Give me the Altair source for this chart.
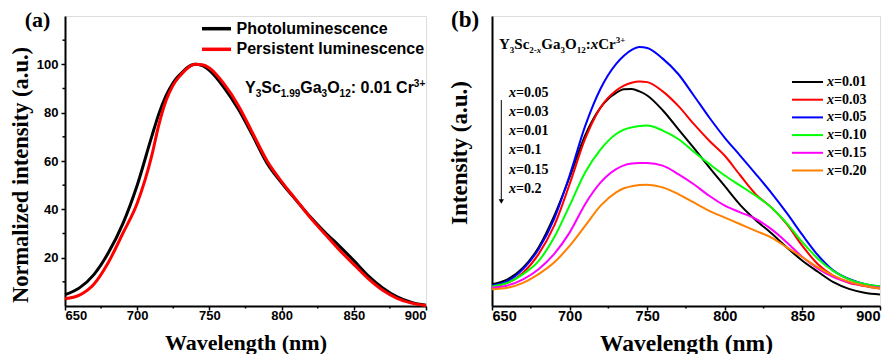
import altair as alt
import pandas as pd

# ---------------- data ----------------
WL_A = [650, 660, 670, 680, 690, 700, 710, 715, 720, 725, 730, 735, 740, 745, 750, 760, 770,
        780, 790, 800, 810, 820, 830, 840, 850, 860, 870, 880, 890, 900]
PL = [4.7, 7.5, 13, 22, 34, 50, 70, 79.5, 87, 92.5, 96, 98.8, 100, 99.5, 97.5, 90.5, 81.5,
      70.5, 59, 51, 43.8, 36.8, 30.5, 24.8, 18.8, 12.5, 7.5, 3.8, 1.5, 0.3]
PERSL = [3, 4.5, 9, 18, 30, 42.5, 62, 75, 85, 91.5, 95.5, 98.5, 100, 99.8, 98.5, 92, 83,
         71.5, 60, 51.5, 44, 36.5, 29.8, 23.2, 17.2, 11.3, 6.5, 3.2, 1.2, 0.2]
A_SERIES = ["Photoluminescence", "Persistent luminescence"]
A_COLORS = ["#000000", "#ff0000"]

WL_B = [650, 660, 670, 680, 690, 700, 710, 720, 730, 735, 740, 745, 750, 760, 770,
        780, 790, 800, 810, 820, 830, 840, 850, 860, 870, 880, 890, 900]
B_X = ["0.01", "0.03", "0.05", "0.10", "0.15", "0.20"]
B_001 = [7.5, 9.2, 13.2, 20.2, 31, 44.4, 58.8, 68.5, 73.5, 74.7, 74.8, 74, 72.6, 67.5, 61,
         54.5, 47.8, 41.3, 34.8, 29.6, 25.1, 20.2, 15.6, 11.8, 8.2, 5.9, 4.6, 4]
B_003 = [6.9, 8, 11.5, 17.9, 27.6, 42, 57.6, 68.5, 74.3, 76, 77, 77.4, 77.2, 74, 69,
         62.8, 57, 51.8, 45, 38.5, 34, 28.2, 20.7, 14.4, 10.4, 8, 6.9, 6]
B_005 = [7.1, 8.6, 12.7, 19.6, 30, 45, 62, 75, 83.5, 86.3, 88.3, 89.3, 89, 85.3, 80,
         72.6, 65, 58, 51.8, 45.5, 39, 32, 24.5, 17.5, 12.2, 9.3, 7.6, 6.7]
B_010 = [6.7, 8, 11, 15.5, 23.6, 34.6, 46, 54, 59.3, 60.8, 61.6, 62.1, 62.2, 60.5, 57.6,
         53.2, 49, 45, 41.5, 38, 34, 28.5, 22, 16.3, 12, 9.2, 7.6, 6.8]
B_015 = [6.3, 7.1, 9.2, 12.7, 17.9, 25.3, 35.1, 42.6, 47.2, 48.5, 49.1, 49.3, 49.3, 48.4, 45.5,
         42, 38, 34.6, 32.3, 30, 26.5, 21.9, 16.9, 12.9, 10, 8.2, 7, 6.3]
B_020 = [5.8, 6.3, 8, 11, 15, 20.7, 27.6, 34.6, 39.2, 40.6, 41.3, 41.7, 41.8, 40.9, 38.6,
         35.7, 32.8, 30.5, 28.2, 25.9, 23.6, 20.2, 16.8, 13.3, 10.5, 8.4, 7, 6]
B_VALUES = [B_001, B_003, B_005, B_010, B_015, B_020]
B_COLORS = ["#000000", "#ff0000", "#0000ff", "#00ff00", "#ff00ff", "#ff8000"]
ORDER_LABELS = ["0.05", "0.03", "0.01", "0.1", "0.15", "0.2"]

X_TICKS = [650, 700, 750, 800, 850, 900]
X_MINOR = [675, 725, 775, 825, 875]
A_Y_TICKS = [20, 40, 60, 80, 100]
A_Y_MINOR = [10, 30, 50, 70, 90, 110]

# ---------------- styles ----------------
SERIF = "Liberation Serif"
SANS = "Liberation Sans"
W_A, W_B, H = 361, 388, 290

SANS_W = {"0": .556, "1": .556, "2": .556, "3": .556, "9": .556, ".": .278, ":": .333,
          " ": .278, "+": .584, "Y": .667, "S": .667, "c": .556, "G": .778, "a": .556,
          "O": .778, "C": .722, "r": .389}
SERIF_W = {"0": .5, "1": .5, "2": .5, "3": .5, "-": .333, "x": .5, "Y": .722, "S": .556,
           "c": .444, "G": .778, "a": .5, "O": .778, ":": .333, "C": .722, "r": .444,
           "+": .57, "=": .57}


def formula_layers(pieces, font, widths, x0, base, main, sub):
    layers = []
    x = x0
    for text, kind, italic in pieces:
        size = main if kind == "main" else sub
        y = base if kind == "main" else (base + 4 if kind == "sub" else base - 6)
        mk = dict(align="left", baseline="alphabetic", font=font, fontSize=size,
                  fontWeight="bold", color="black")
        if italic:
            mk["fontStyle"] = "italic"
        layers.append(
            alt.Chart(pd.DataFrame({"t": [text]})).mark_text(**mk).encode(
                text="t:N", x=alt.value(x), y=alt.value(y)))
        x += sum(widths.get(ch, .5) for ch in text) * size
    return layers


def x_axis(size, title_y):
    return alt.Axis(values=X_TICKS, format="d", title="Wavelength (nm)", titleFont=SERIF,
                    titleFontSize=size + 9, titleFontWeight="bold", titleColor="black",
                    titleY=title_y, titleBaseline="alphabetic",
                    labelFont=SANS, labelFontSize=size, labelFontWeight="bold",
                    labelColor="black", labelPadding=-1, tickSize=4, tickWidth=1.5,
                    tickColor="black", domainColor="black", domainWidth=2, grid=False)


def label_chart(text, x, y, size):
    return alt.Chart(pd.DataFrame({"t": [text]})).mark_text(
        align="left", baseline="alphabetic", font=SERIF, fontSize=size,
        fontWeight="bold", color="black").encode(text="t:N", x=alt.value(x), y=alt.value(y))


# ---------------- panel (a) ----------------
dfA = pd.DataFrame({"wl": WL_A * 2, "v": PL + PERSL,
                    "s": [A_SERIES[0]] * len(WL_A) + [A_SERIES[1]] * len(WL_A)})
xA = alt.X("wl:Q", scale=alt.Scale(domain=[650, 900], nice=False, zero=False),
           axis=x_axis(13, 43))
axisA = alt.Axis(values=A_Y_TICKS, title="Normalized intensity (a.u.)",
                 titleFont=SERIF, titleFontSize=22.5, titleFontWeight="bold",
                 titleColor="black", titleAngle=270, titleX=-45, titleY=158.5,
                 titleAlign="center", titleBaseline="middle",
                 labelFont=SANS, labelFontSize=13, labelFontWeight="bold",
                 labelColor="black", labelPadding=3, tickSize=4, tickWidth=1.5,
                 tickColor="black", domainColor="black", domainWidth=2, grid=False)
colA = alt.Color("s:N", scale=alt.Scale(domain=A_SERIES, range=A_COLORS), legend=None)

curvesA = []
for i, s in enumerate(A_SERIES):
    yA = alt.Y("v:Q", scale=alt.Scale(domain=[0, 120], nice=False),
               axis=axisA if i == 0 else None)
    curvesA.append(
        alt.Chart(dfA).transform_filter(alt.datum.s == s).mark_line(
            strokeWidth=3, interpolate="monotone").encode(x=xA, y=yA, color=colA))

xminA = alt.Chart(pd.DataFrame({"wl": X_MINOR})).mark_rule(color="black", strokeWidth=1.5).encode(
    x="wl:Q", y=alt.value(H), y2=alt.value(H + 2.5))
yminA = alt.Chart(pd.DataFrame({"v": A_Y_MINOR})).mark_rule(color="black", strokeWidth=1.5).encode(
    y=alt.Y("v:Q", scale=alt.Scale(domain=[0, 120], nice=False), axis=None),
    x=alt.value(0), x2=alt.value(-2.5))
legYA = alt.Y("s:N", scale=alt.Scale(type="point", domain=A_SERIES, range=[12.7, 33.3], padding=0),
              axis=None)
legA_df = pd.DataFrame({"s": A_SERIES})
legA_lines = alt.Chart(legA_df).mark_rule(strokeWidth=3.5).encode(
    x=alt.value(137), x2=alt.value(166), y=legYA, color=colA)
legA_text = alt.Chart(legA_df).mark_text(
    align="left", baseline="middle", font=SANS, fontSize=16, fontWeight="bold",
    color="black").encode(x=alt.value(171.5), y=legYA, text="s:N")

formulaA = formula_layers(
    [("Y", "main", False), ("3", "sub", False), ("Sc", "main", False), ("1.99", "sub", False),
     ("Ga", "main", False), ("3", "sub", False), ("O", "main", False), ("12", "sub", False),
     (": 0.01 Cr", "main", False), ("3+", "sup", False)],
    SANS, SANS_W, 180, 77, 16, 10)

chartA = alt.layer(
    *curvesA, xminA, yminA, legA_lines, legA_text, *formulaA,
    label_chart("(a)", -40.3, 11, 22)
).resolve_scale(y="independent").properties(width=W_A, height=H)

# ---------------- panel (b) ----------------
rows = []
for lab, vals in zip(B_X, B_VALUES):
    for w, v in zip(WL_B, vals):
        rows.append({"wl": w, "v": v, "s": lab})
dfB = pd.DataFrame(rows)
xB = alt.X("wl:Q", scale=alt.Scale(domain=[650, 900], nice=False, zero=False),
           axis=x_axis(14.5, 44))
yB = alt.Y("v:Q", scale=alt.Scale(domain=[0, 100], nice=False),
           axis=alt.Axis(labels=False, ticks=False, title="Intensity (a.u.)",
                         titleFont=SERIF, titleFontSize=23, titleFontWeight="bold",
                         titleColor="black", titleAngle=270, titleX=-33, titleY=136.5,
                         titleAlign="center", titleBaseline="middle",
                         domainColor="black", domainWidth=2, grid=False))
colB = alt.Color("s:N", scale=alt.Scale(domain=B_X, range=B_COLORS), legend=None)

curvesB = alt.Chart(dfB).mark_line(strokeWidth=2, interpolate="monotone").encode(
    x=xB, y=yB, color=colB)
xminB = alt.Chart(pd.DataFrame({"wl": X_MINOR})).mark_rule(color="black", strokeWidth=1.5).encode(
    x="wl:Q", y=alt.value(H), y2=alt.value(H + 2.5))

legB_df = pd.DataFrame({"s": B_X})
legYB = alt.Y("s:N", scale=alt.Scale(type="point", domain=B_X, range=[66, 154.5], padding=0),
              axis=None)
legB_lines = alt.Chart(legB_df).mark_rule(strokeWidth=2).encode(
    x=alt.value(300), x2=alt.value(331), y=legYB, color=colB)
legB_x = alt.Chart(legB_df).mark_text(
    align="left", baseline="middle", font=SERIF, fontSize=14, fontWeight="bold",
    fontStyle="italic", color="black").encode(x=alt.value(335), y=legYB, text=alt.value("x"))
legB_t = alt.Chart(legB_df).transform_calculate(t="'=' + datum.s").mark_text(
    align="left", baseline="middle", font=SERIF, fontSize=14, fontWeight="bold",
    color="black").encode(x=alt.value(342), y=legYB, text="t:N")

ord_df = pd.DataFrame({"s": ORDER_LABELS})
ordY = alt.Y("s:N", scale=alt.Scale(type="point", domain=ORDER_LABELS, range=[76.7, 172.7],
                                    padding=0), axis=None)
ord_x = alt.Chart(ord_df).mark_text(
    align="left", baseline="middle", font=SERIF, fontSize=14, fontWeight="bold",
    fontStyle="italic", color="black").encode(x=alt.value(17), y=ordY, text=alt.value("x"))
ord_t = alt.Chart(ord_df).transform_calculate(t="'=' + datum.s").mark_text(
    align="left", baseline="middle", font=SERIF, fontSize=14, fontWeight="bold",
    color="black").encode(x=alt.value(24), y=ordY, text="t:N")
arrow_line = alt.Chart(pd.DataFrame({"a": [0]})).mark_rule(color="black", strokeWidth=1).encode(
    x=alt.value(9.3), y=alt.value(84), y2=alt.value(184))
arrow_head = alt.Chart(pd.DataFrame({"a": [0]})).mark_point(
    shape="triangle-down", filled=True, color="black", size=28, opacity=1).encode(
    x=alt.value(9.3), y=alt.value(185.5))

formulaB = formula_layers(
    [("Y", "main", False), ("3", "sub", False), ("Sc", "main", False), ("2-", "sub", False),
     ("x", "sub", True), ("Ga", "main", False), ("3", "sub", False), ("O", "main", False),
     ("12", "sub", False), (":", "main", False), ("x", "main", True), ("Cr", "main", False),
     ("3+", "sup", False)],
    SERIF, SERIF_W, 7, 32.5, 15, 9)

chartB = alt.layer(
    curvesB, xminB, legB_lines, legB_x, legB_t, ord_x, ord_t, arrow_line, arrow_head,
    *formulaB, label_chart("(b)", -41, 11, 23)
).resolve_scale(y="independent").properties(width=W_B, height=H)

chart = alt.hconcat(chartA, chartB, spacing=14).resolve_scale(
    color="independent", x="independent", y="independent"
).properties(
    padding={"left": 0, "top": 0, "right": 0, "bottom": 0}
).configure_view(stroke="black", strokeWidth=2).configure(background="white")

chart.save("out.html", embed_options={"renderer": "svg", "actions": False})
